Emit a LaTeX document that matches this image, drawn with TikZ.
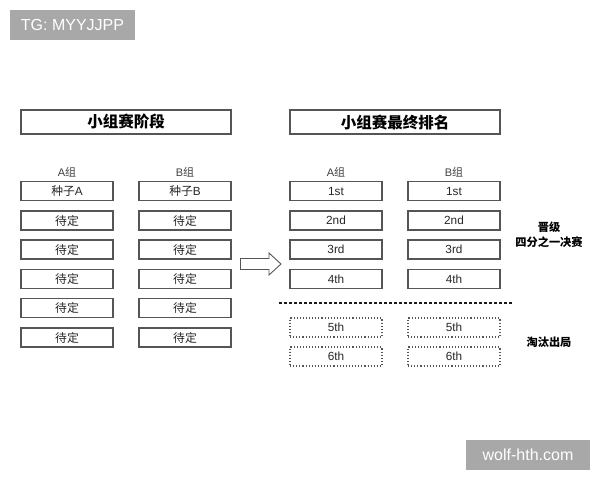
\documentclass[tikz,border=0pt]{standalone}
\usepackage{fontspec}
\setmainfont{Liberation Sans}
\newfontfamily\cjk{Noto Sans CJK SC}
\definecolor{boxline}{HTML}{555555}
\definecolor{wm}{HTML}{A8A8A8}
\tikzset{
  cell/.style={draw=boxline, line width=1.1pt, minimum width=92pt, minimum height=19pt, inner sep=0pt, font=\fontsize{11.8}{13}\selectfont, text=black!85},
  dcell/.style={cell, dotted, line width=1.2pt},
  header/.style={draw=boxline, line width=1.1pt, minimum width=210pt, minimum height=24pt, inner sep=0pt, font=\cjk\bfseries\fontsize{15.5}{17}\selectfont},
  grp/.style={inner sep=0pt, font=\fontsize{11}{12}\selectfont, text=black!75},
  side/.style={inner sep=0pt, align=center, font=\cjk\bfseries\fontsize{11.2}{15}\selectfont},
  wmark/.style={fill=wm, text=white, inner sep=0pt, font=\fontsize{16}{18}\selectfont}
}
\begin{document}
\begin{tikzpicture}[x=1pt,y=-1pt]
\useasboundingbox (0,0) rectangle (600,480);
% watermarks
\node[wmark, minimum width=125pt, minimum height=30pt] (tg) at (72.5,25) {TG: MYYJJPP};
\node[wmark, minimum width=124pt, minimum height=30pt] (wolf) at (528,455) {wolf-hth.com};
% headers
\node[header] (h1) at (126,122) {小组赛阶段};
\node[header] (h2) at (395,122) {小组赛最终排名};
% group labels
\node[grp] (la) at (67,172) {A{\cjk 组}};
\node[grp] (lb) at (185,172) {B{\cjk 组}};
\node[grp] (ra) at (336,172) {A{\cjk 组}};
\node[grp] (rb) at (454,172) {B{\cjk 组}};
% left boxes
\node[cell] (a1) at (67,191) {{\cjk 种子}A};
\node[cell] (b1) at (185,191) {{\cjk 种子}B};
\foreach \i/\y in {2/220.5,3/249.5,4/279,5/308,6/337.5}{
  \node[cell] (a\i) at (67,\y) {\cjk 待定};
  \node[cell] (b\i) at (185,\y) {\cjk 待定};
}
% right boxes
\foreach \i/\t/\y in {1/1st/191,2/2nd/220.5,3/3rd/249.5,4/4th/279}{
  \node[cell] (ra\i) at (336,\y) {\t};
  \node[cell] (rb\i) at (454,\y) {\t};
}
\node[dcell] (ra5) at (336,327.5) {5th};
\node[dcell] (rb5) at (454,327.5) {5th};
\node[dcell] (ra6) at (336,356.5) {6th};
\node[dcell] (rb6) at (454,356.5) {6th};
% arrow (outlined block arrow)
\draw[boxline, fill=white, line width=0.9pt, line join=miter]
  (240.5,258.5) -- (269,258.5) -- (269,253) -- (281,264) -- (269,275) -- (269,269.5) -- (240.5,269.5) -- cycle;
% dotted separator
\coordinate (d1) at (279,303);
\coordinate (d2) at (512,303);
\draw[line width=2.8pt, dash pattern=on 2.8pt off 2.2pt, black!90] (d1) -- (d2);
% side labels
\node[side] (adv) at (549,234.5) {晋级\\四分之一决赛};
\node[side] (out) at (549,342) {淘汰出局};
\end{tikzpicture}
\end{document}
